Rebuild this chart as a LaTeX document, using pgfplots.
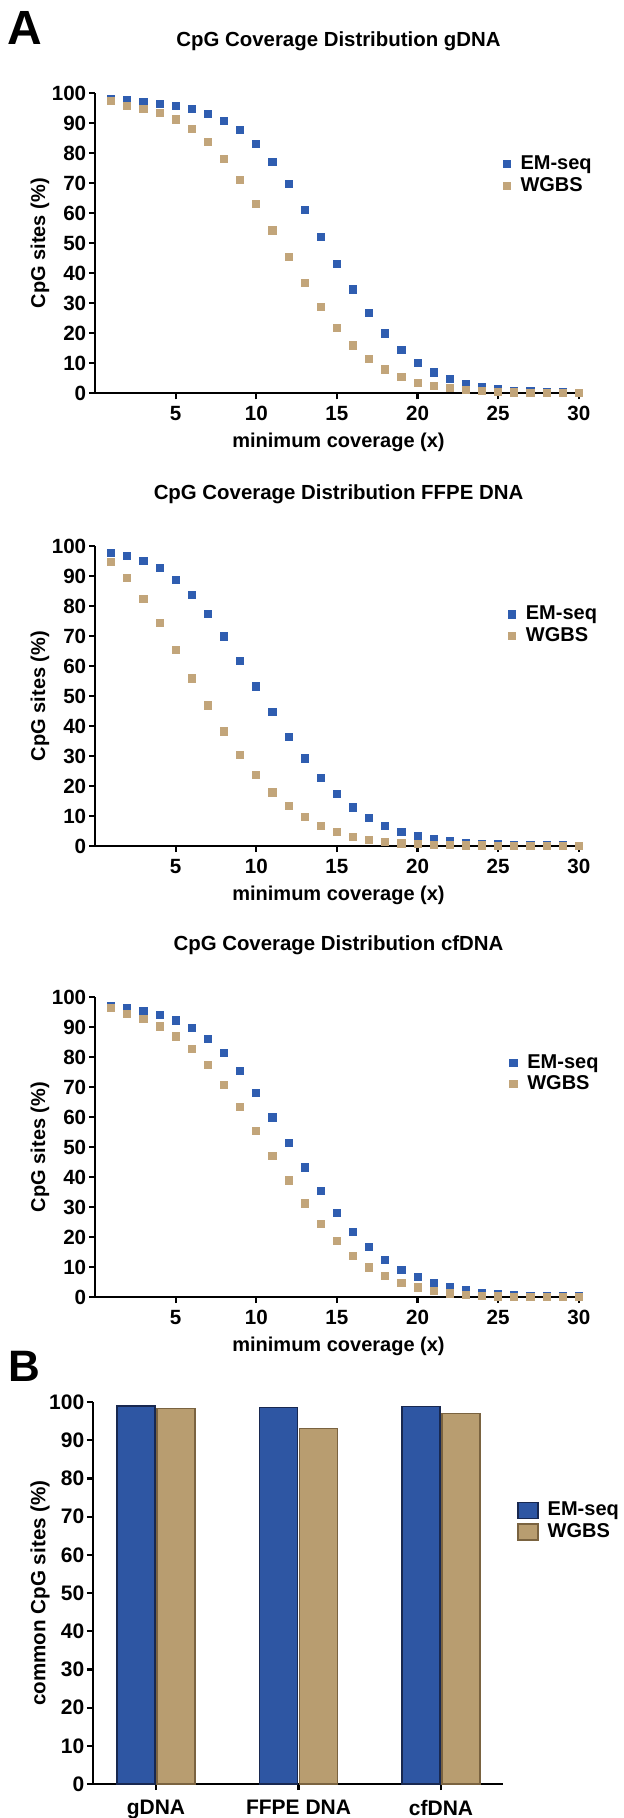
\documentclass[border=0pt]{standalone}
\usepackage{fontspec}
\setmainfont{Liberation Sans}
\usepackage{pgfplots}
\pgfplotsset{compat=1.18}

\definecolor{emblue}{HTML}{2F5DB0}
\definecolor{wgtan}{HTML}{C2A57A}
\definecolor{barblue}{HTML}{2E56A3}
\definecolor{barblueedge}{HTML}{182850}
\definecolor{bartan}{HTML}{B89D70}
\definecolor{bartanedge}{HTML}{7A6340}

\newcommand{\fs}[1]{\bfseries\fontsize{#1}{#1}\selectfont}

\pgfplotsset{
  covstyle/.style={
    scale only axis, width=243.5pt, height=150pt,
    xmin=0, xmax=30.2, ymin=0, ymax=100,
    axis lines=left, axis line style={-, line width=1.1pt},
    xtick={5,10,...,30}, ytick={0,10,...,100},
    tick align=outside, major tick length=3pt,
    tick style={line width=1.1pt, black},
    tick label style={font=\fs{10.3}},
    yticklabel style={inner sep=1.2pt},
    /pgf/number format/assume math mode=true,
    title style={at={(0.5,1.133)}, anchor=center, font=\fs{10.2}},
    xlabel={minimum coverage (x)},
    ylabel={CpG sites (\%)},
    xlabel style={at={(axis description cs:0.5,-0.163)}, anchor=center, font=\fs{10}},
    ylabel style={at={(axis description cs:-0.113,0.5)}, anchor=center, font=\fs{10}},
    legend style={anchor=north west, draw=none, fill=none,
      font=\fs{10}, inner sep=0pt, row sep=0.3pt, nodes={inner sep=1pt}},
    legend cell align=left,
    legend image code/.code={\draw[mark=square*,##1] plot coordinates {(0pt,0pt)};
      \path[draw=none,fill=none] (-2pt,0pt) rectangle (6pt,0.1pt);},
    clip=false,
  },
  em/.style={only marks, mark=square*, mark size=1.8pt, color=emblue},
  wg/.style={only marks, mark=square*, mark size=1.8pt, color=wgtan},
}

\begin{document}
\begin{tikzpicture}
\path[use as bounding box] (0,0) rectangle (311.5pt,-909pt);

\node[font=\fs{24}] at (12.3pt,-13.75pt) {A};
\node[font=\fs{22}] at (12pt,-683pt) {B};

% gDNA
\begin{axis}[covstyle, at={(47.5pt,-196.65pt)}, anchor=south west,
  title={CpG Coverage Distribution gDNA},
  legend style={at={(0.836,0.80)}}]
\addplot[em] coordinates {
(1,98.0) (2,97.6) (3,97.0) (4,96.4) (5,95.8) (6,94.8) (7,93.2) (8,90.9) (9,87.7) (10,83.0)
(11,77.0) (12,69.7) (13,61.2) (14,52.2) (15,43.2) (16,34.6) (17,26.7) (18,20.0) (19,14.4) (20,10.1)
(21,7.0) (22,4.7) (23,3.1) (24,2.0) (25,1.3) (26,0.9) (27,0.7) (28,0.4) (29,0.3) (30,0.2)};
\addplot[wg] coordinates {
(1,97.4) (2,95.9) (3,94.9) (4,93.4) (5,91.3) (6,88.2) (7,83.9) (8,78.1) (9,71.2) (10,63.2)
(11,54.3) (12,45.4) (13,36.7) (14,28.8) (15,21.9) (16,16.0) (17,11.4) (18,8.0) (19,5.4) (20,3.6)
(21,2.4) (22,1.7) (23,1.1) (24,0.7) (25,0.4) (26,0.3) (27,0.2) (28,0.1) (29,0.1) (30,0.1)};
\legend{EM-seq, WGBS}
\end{axis}

% FFPE DNA
\begin{axis}[covstyle, at={(47.5pt,-423pt)}, anchor=south west,
  title={CpG Coverage Distribution FFPE DNA},
  legend style={at={(0.847,0.808)}}]
\addplot[em] coordinates {
(1,97.6) (2,96.7) (3,95.0) (4,92.6) (5,88.8) (6,83.7) (7,77.4) (8,69.9) (9,61.7) (10,53.2)
(11,44.7) (12,36.4) (13,29.2) (14,22.7) (15,17.3) (16,12.9) (17,9.5) (18,6.8) (19,4.8) (20,3.3)
(21,2.3) (22,1.6) (23,1.1) (24,0.8) (25,0.6) (26,0.3) (27,0.3) (28,0.2) (29,0.2) (30,0.1)};
\addplot[wg] coordinates {
(1,94.7) (2,89.5) (3,82.4) (4,74.3) (5,65.3) (6,55.9) (7,46.9) (8,38.2) (9,30.5) (10,23.6)
(11,17.9) (12,13.3) (13,9.7) (14,6.8) (15,4.6) (16,3.0) (17,2.1) (18,1.4) (19,0.9) (20,0.7)
(21,0.4) (22,0.3) (23,0.2) (24,0.2) (25,0.1) (26,0.1) (27,0.1) (28,0.1) (29,0.1) (30,0.1)};
\legend{EM-seq, WGBS}
\end{axis}

% cfDNA
\begin{axis}[covstyle, at={(47.5pt,-648.5pt)}, anchor=south west,
  title={CpG Coverage Distribution cfDNA},
  legend style={at={(0.85,0.817)}}]
\addplot[em] coordinates {
(1,97.0) (2,96.2) (3,95.3) (4,94.1) (5,92.2) (6,89.8) (7,86.0) (8,81.3) (9,75.3) (10,68.0)
(11,59.9) (12,51.4) (13,43.2) (14,35.3) (15,28.1) (16,21.8) (17,16.7) (18,12.5) (19,9.1) (20,6.6)
(21,4.7) (22,3.2) (23,2.2) (24,1.4) (25,1.0) (26,0.7) (27,0.4) (28,0.3) (29,0.3) (30,0.2)};
\addplot[wg] coordinates {
(1,96.4) (2,94.5) (3,92.6) (4,90.2) (5,86.9) (6,82.6) (7,77.4) (8,70.8) (9,63.3) (10,55.5)
(11,47.0) (12,38.9) (13,31.2) (14,24.4) (15,18.6) (16,13.7) (17,9.9) (18,7.0) (19,4.8) (20,3.2)
(21,2.1) (22,1.2) (23,0.7) (24,0.3) (25,0.2) (26,0.1) (27,0.1) (28,0.1) (29,0.1) (30,0.1)};
\legend{EM-seq, WGBS}
\end{axis}

% common CpG sites
\begin{axis}[at={(46.5pt,-892pt)}, anchor=south west,
  scale only axis, width=204.8pt, height=191pt,
  ybar, bar width=19pt,
  xmin=-0.442, xmax=2.432, ymin=0, ymax=100,
  axis x line=bottom, axis y line=left, axis line style={-, line width=1.1pt},
  xtick={0,1,2}, xticklabels={gDNA, FFPE DNA, cfDNA},
  ytick={0,10,...,100},
  tick align=outside, major tick length=3pt,
  tick style={line width=1.1pt, black},
  tick label style={font=\fs{10.5}},
  yticklabel style={inner sep=1.2pt},
  xticklabel style={yshift=-1.5pt},
  /pgf/number format/assume math mode=true,
  ylabel={common CpG sites (\%)},
  ylabel style={at={(axis description cs:-0.129,0.5)}, anchor=center, font=\fs{10.3}},
  legend style={at={(1.034,0.74)}, anchor=north west, draw=none, fill=none,
    font=\fs{10}, inner sep=0pt, row sep=1.8pt, nodes={inner sep=0pt}},
  legend cell align=left,
  legend image code/.code={\draw[#1] (0pt,-4pt) rectangle (10pt,4pt);
    \path[draw=none,fill=none] (0pt,-0.1pt) rectangle (15pt,0.1pt);},
  clip=false,
]
\addplot[fill=barblue, draw=barblueedge, line width=0.8pt, bar shift=-10pt]
  coordinates {(0,99.0) (1,98.6) (2,98.8)};
\addplot[fill=bartan, draw=bartanedge, line width=0.8pt, bar shift=10pt]
  coordinates {(0,98.3) (1,93.1) (2,97.0)};
\legend{EM-seq, WGBS}
\end{axis}
\end{tikzpicture}
\end{document}
